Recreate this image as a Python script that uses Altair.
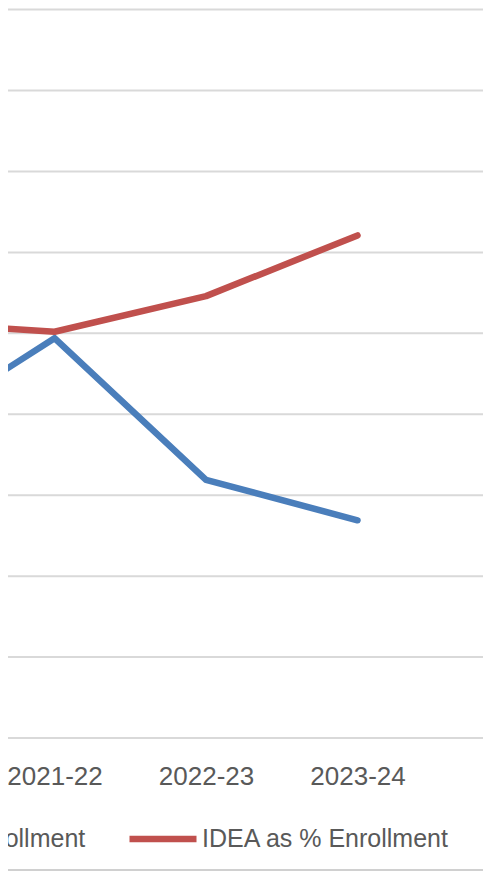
import json
import altair as alt
import pandas as pd

# ---- data ----
years = ["2020-21", "2021-22", "2022-23", "2023-24"]
series_names = ["Total Enrollment", "IDEA as % Enrollment"]
blue_values = [3.74, 4.94, 3.19, 2.69]
red_values = [5.14, 5.02, 5.46, 6.21]
grid_values = list(range(10))
colors = ["#4A7EBB", "#C0504D"]

rows = []
for i, y in enumerate(years):
    rows.append({"year": y, "idx": i, "series": series_names[0], "value": blue_values[i]})
    rows.append({"year": y, "idx": i, "series": series_names[1], "value": red_values[i]})
df = pd.DataFrame(rows)
grid_df = pd.DataFrame({"g": grid_values})

W, H = 475, 730
FONT = "Liberation Sans"
label_expr = json.dumps(years) + "[datum.value]"

x_scale = alt.Scale(domain=[0.69307, 3.82838], nice=False, zero=False)
y_scale = alt.Scale(domain=[0, 9.02], nice=False, zero=True)

grid = alt.Chart(grid_df).mark_rule(color="#D9D9D9", strokeWidth=2).encode(
    y=alt.Y("g:Q", scale=y_scale, axis=None),
    x=alt.value(0),
    x2=alt.value(W),
)

lines = alt.Chart(df).mark_line(
    strokeWidth=6.5, strokeCap="round", strokeJoin="round"
).encode(
    x=alt.X(
        "idx:Q",
        scale=x_scale,
        axis=alt.Axis(
            values=[1, 2, 3], labelExpr=label_expr, title=None, grid=False,
            domain=False, ticks=False, tickSize=0, labelPadding=46,
            labelBaseline="alphabetic", labelFont=FONT, labelFontSize=26,
            labelColor="#595959", labelFlush=False, labelOverlap=False,
        ),
    ),
    y=alt.Y("value:Q", scale=y_scale, axis=None),
    color=alt.Color(
        "series:N",
        scale=alt.Scale(domain=series_names, range=colors),
        sort=series_names,
        legend=alt.Legend(
            title=None, orient="none", direction="horizontal", columns=2,
            legendX=-178, legendY=794, symbolType="stroke", symbolSize=4489,
            symbolStrokeWidth=6.5, labelOffset=2, columnPadding=30,
            labelFont=FONT, labelFontSize=25, labelColor="#595959",
            labelLimit=0,
        ),
    ),
    detail="series:N",
)

border = alt.Chart(pd.DataFrame({"k": [0]})).mark_rule(
    color="#D0D0D0", strokeWidth=2
).encode(x=alt.value(-10), x2=alt.value(W + 10), y=alt.value(862))

chart = alt.layer(grid, lines, border).properties(
    width=W, height=H,
    background="white",
    autosize=alt.AutoSizeParams(type="none"),
    padding={"left": 0, "top": 0, "right": 0, "bottom": 134},
).configure_view(strokeWidth=0, stroke="transparent").configure_axis(
    domain=False, ticks=False, grid=False
)

chart.save("out.html", embed_options={"renderer": "svg", "actions": False})
